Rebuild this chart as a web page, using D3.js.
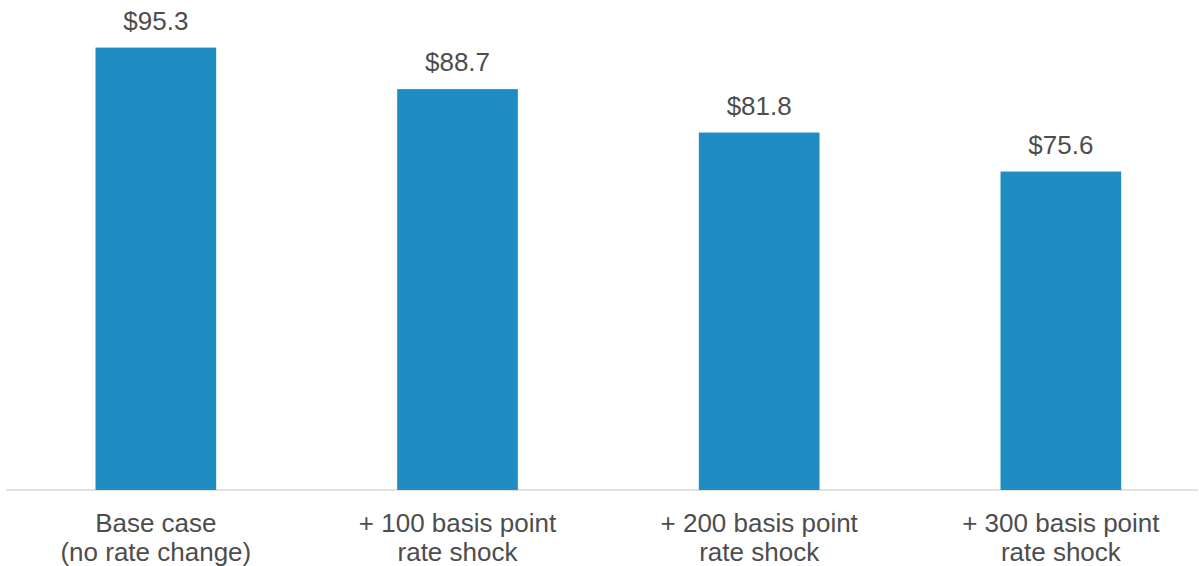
<!DOCTYPE html>
<html><head><meta charset="utf-8">
<script src="https://cdn.jsdelivr.net/npm/d3@7"></script>
<style>html,body{margin:0;padding:0;background:#fff;}svg{display:block;}</style>
</head><body>
<svg id="chart" width="1199" height="566"></svg>
<script>
const categories = [
  ["Base case", "(no rate change)"],
  ["+ 100 basis point", "rate shock"],
  ["+ 200 basis point", "rate shock"],
  ["+ 300 basis point", "rate shock"]
];
const values = [95.3, 88.7, 81.8, 75.6];
const valueLabels = ["$95.3", "$88.7", "$81.8", "$75.6"];

const svg = d3.select("#chart");
const x = d3.scaleBand().domain(d3.range(values.length)).range([5, 1211.7]).paddingInner(0.6).paddingOuter(0.3);
const y = d3.scaleLinear().domain([25, 100]).range([490, 18]);

svg.append("line").attr("x1", 6).attr("x2", 1198).attr("y1", 490).attr("y2", 490)
  .attr("stroke", "#d9d9d9").attr("stroke-width", 1.5);

svg.selectAll("rect.bar").data(values).join("rect").attr("class", "bar")
  .attr("x", (d, i) => x(i)).attr("width", x.bandwidth())
  .attr("y", d => y(d)).attr("height", d => y.range()[0] - y(d))
  .attr("fill", "#208dc2");

svg.selectAll("text.val").data(values).join("text").attr("class", "val")
  .attr("x", (d, i) => x(i) + x.bandwidth() / 2).attr("y", d => y(d) - 18)
  .attr("text-anchor", "middle").attr("font-family", "Liberation Sans, Arial, sans-serif")
  .attr("font-size", 26).attr("fill", "#4d4d4d").text((d, i) => valueLabels[i]);

const cat = svg.selectAll("text.cat").data(categories).join("text").attr("class", "cat")
  .attr("x", (d, i) => x(i) + x.bandwidth() / 2).attr("y", 532)
  .attr("text-anchor", "middle").attr("font-family", "Liberation Sans, Arial, sans-serif")
  .attr("font-size", 26).attr("fill", "#4d4d4d");
cat.each(function(d, i) {
  const t = d3.select(this);
  d.forEach((line, j) => {
    t.append("tspan").attr("x", x(i) + x.bandwidth() / 2).attr("dy", j === 0 ? 0 : 29).text(line);
  });
});
</script>
</body></html>
